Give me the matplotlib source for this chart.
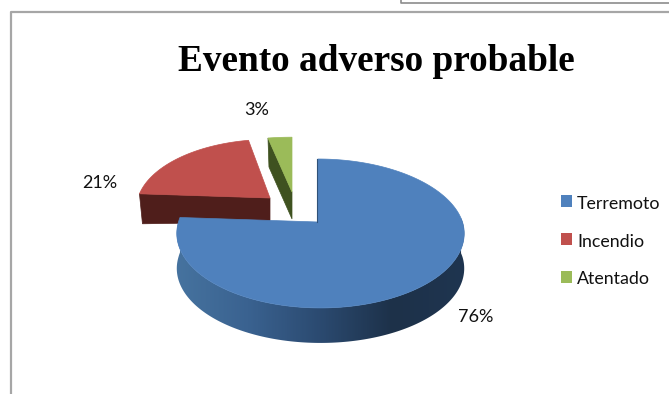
import numpy as np
import matplotlib
matplotlib.use("Agg")
import matplotlib.pyplot as plt
from matplotlib.colors import LinearSegmentedColormap
from matplotlib.patches import Polygon, Rectangle

categories = ["Terremoto", "Incendio", "Atentado"]
values = [76, 21, 3]
pct_labels = ["76%", "21%", "3%"]

top_colors = ["#4F81BD", "#C0504D", "#9BBB59"]
side_colors = ["#1F3550", "#4F1E1B", "#3F5220"]

# pie apex, radius, perspective
X0, Y0 = 318, 222
RX, RY, K = 142, 72.7, 0.154
# per slice: apex shift (px), shrink in x and y, depth (px)
shift = [(0, 0), (-48, -24), (-26, -30)]
scale_x = [1.0, 0.93, 1.04]
scale_y = [1.0, 0.93, 0.87]
depth = [35, 27, 28]


def project(theta, i):
    # theta is clockwise from 12 o'clock, radians
    u, v = np.sin(theta), np.cos(theta)
    w = 1 + K * v
    x = X0 + shift[i][0] + scale_x[i] * RX * u / w
    y = Y0 + shift[i][1] - scale_y[i] * RY * v / w
    if i == 0:
        # big slice leans a little to the right of its apex
        x = x + np.clip(2.5 * (1 - v), 0, 2.5)
    return x, y


fig = plt.figure(figsize=(6.69, 3.94), dpi=100)
ax = fig.add_axes([0, 0, 1, 1])
ax.axis("off")

# page lines behind the chart
ax.plot([10.5, 10.5, 669], [394, 11.5, 11.5], color="#a6a6a6", lw=1.6, solid_capstyle="butt")
ax.plot([400.5, 400.5, 669], [0, 2.5, 2.5], color="#8c8c8c", lw=1.2, solid_capstyle="butt")

edges = np.cumsum([0] + values) / sum(values) * 2 * np.pi
wall_cmap = LinearSegmentedColormap.from_list(
    "wall", ["#46739F", "#3A6290", "#2B4A70", "#1D3149", "#1F3550"])

# green and red first, blue sits in front
for i in [2, 1, 0]:
    t = np.linspace(edges[i], edges[i + 1], 240)
    x, y = project(t, i)
    ax_, ay_ = X0 + shift[i][0], Y0 + shift[i][1]
    d = depth[i]
    if i == 0:
        # outer wall, shaded left to right and clipped to the rim
        low = y >= Y0 - 5
        wx, wy = x[low], y[low]
        wall = np.vstack([np.column_stack([wx, wy]), np.column_stack([wx[::-1], wy[::-1] + d])])
        im = ax.imshow(np.linspace(0, 1, 300)[None, :], cmap=wall_cmap, aspect="auto",
                       extent=(175, 466, 350, 200), interpolation="bilinear")
        im.set_clip_path(Polygon(wall, closed=True, transform=ax.transData))
    elif i == 1:
        # cut face towards the viewer
        face = [(x[0], y[0]), (ax_, ay_), (ax_, ay_ + d - 3), (x[0] + 3, y[0] + d + 3)]
        ax.add_patch(Polygon(face, closed=True, fc=side_colors[1], ec=side_colors[1], lw=0.5))
    else:
        # thin cut face on the left
        face = [(x[0], y[0]), (ax_, ay_), (ax_, ay_ + d - 1), (x[0] + 1, y[0] + d + 1)]
        ax.add_patch(Polygon(face, closed=True, fc=side_colors[2], ec=side_colors[2], lw=0.5))
    pts = np.vstack([[ax_, ay_], np.column_stack([x, y])])
    ax.add_patch(Polygon(pts, closed=True, fc=top_colors[i], ec=top_colors[i], lw=0.5))

ax.plot([X0 - 1, X0 - 1], [159, 222], color="#2F5178", lw=0.8)

ax.text(376.5, 61, "Evento adverso probable", family="Liberation Serif", fontweight="bold",
        fontsize=26.8, ha="center", va="center", color="black")

label_pos = [(476, 317.5), (100, 183), (257, 110)]
for lab, (lx, ly) in zip(pct_labels, label_pos):
    ax.text(lx, ly, lab, family="Lato", fontsize=13, ha="center", va="center", color="#111111")

legend_y = [201, 239, 277]
text_y = [203.5, 241.5, 278.5]
for c, name, ly, ty in zip(top_colors, categories, legend_y, text_y):
    ax.add_patch(Rectangle((561, ly - 6), 11, 11.5, fc=c, ec="none"))
    ax.text(577, ty, name, family="Lato", fontsize=12.8, ha="left", va="center", color="#111111")

ax.set_xlim(0, 669)
ax.set_ylim(394, 0)

plt.savefig("out.png", dpi=100)
plt.close()
